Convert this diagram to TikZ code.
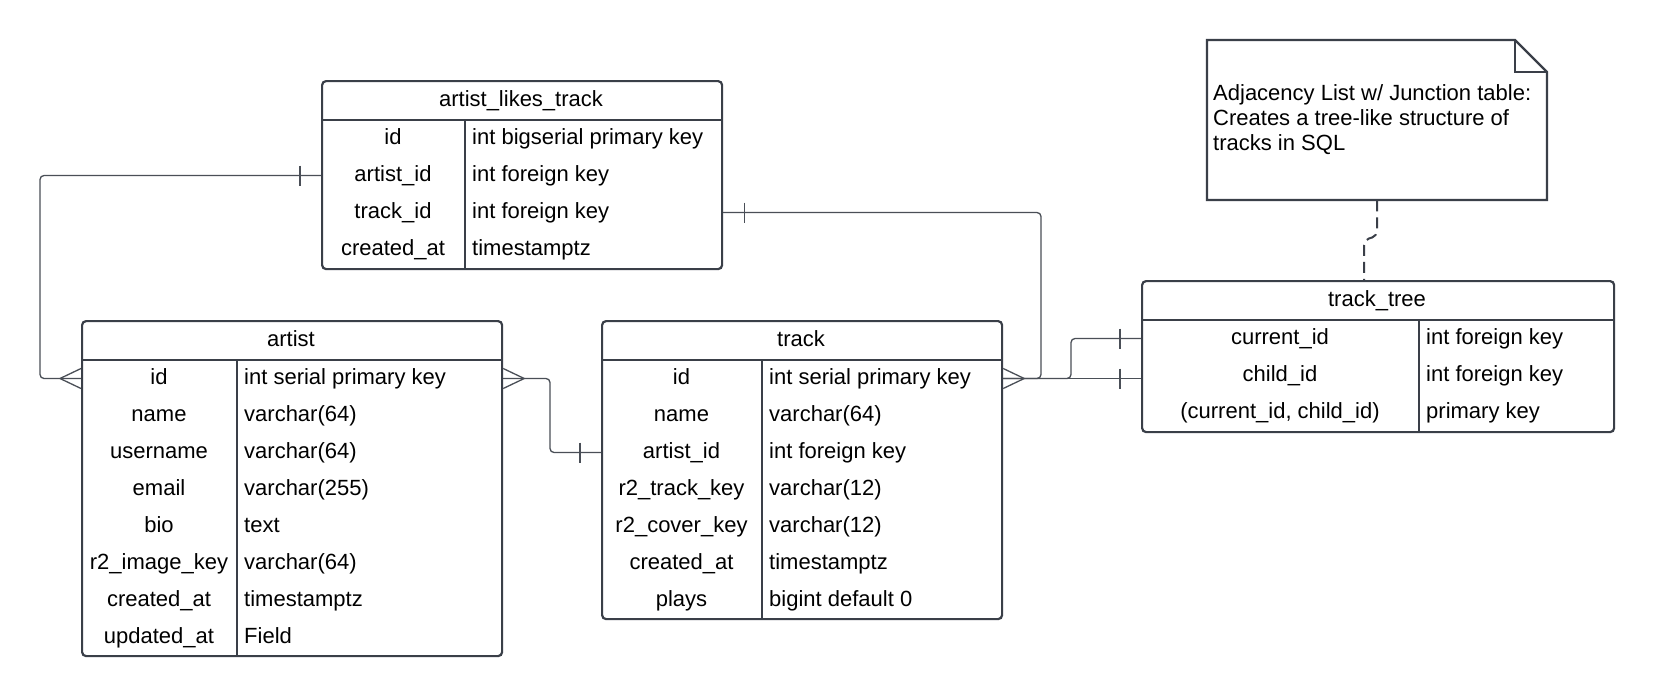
\documentclass[tikz,border=0pt]{standalone}
\usepackage{fontspec}
\setmainfont{Liberation Sans}
\usetikzlibrary{calc}
\definecolor{linec}{HTML}{3A3F48}
\definecolor{connc}{HTML}{4A4F57}
\tikzset{
  tbl/.style={draw=linec, line width=2.2pt, rounded corners=4pt, inner sep=0pt, anchor=north west, fill=white},
  sep/.style={draw=linec, line width=2.2pt},
  conn/.style={draw=connc, line width=1.3pt, rounded corners=4pt},
  mk/.style={draw=connc, line width=1.3pt},
  ttl/.style={font=\fontsize{22}{25}\selectfont, inner sep=0pt, text height=16pt, text depth=4pt},
  keyc/.style={ttl, anchor=center},
  typc/.style={ttl, anchor=west},
  notetext/.style={font=\fontsize{22}{25}\selectfont, align=left, inner sep=0pt, anchor=north west},
}
\newcommand\tickat[2]{\draw[mk] ($(#1)+(#2,-10)$) -- ($(#1)+(#2,10)$);}
\newcommand\crowat[2]{\draw[mk] ($(#1)+(0,-10)$) -- ($(#1)+(#2,0)$) -- ($(#1)+(0,10)$);}
\begin{document}
\begin{tikzpicture}[x=1pt,y=-1pt]
\useasboundingbox[fill=white] (0,0) rectangle (1653,696);

% ---------- artist_likes_track ----------
\node[tbl, minimum width=400pt, minimum height=188pt] (alt) at (321,80) {};
\draw[sep] (321,120) -- (721,120);
\draw[sep] (465,120) -- (465,268);
\node[keyc] (alt-title) at (521,100) {artist\_likes\_track};
\node[keyc] (alt-id) at (393,138.5) {id};
\node[keyc] (alt-aid) at (393,175.5) {artist\_id};
\node[keyc] (alt-tid) at (393,212.5) {track\_id};
\node[keyc] (alt-cat) at (393,249.5) {created\_at};
\node[typc] at (472,138.5) {int bigserial primary key};
\node[typc] at (472,175.5) {int foreign key};
\node[typc] at (472,212.5) {int foreign key};
\node[typc] at (472,249.5) {timestamptz};

% ---------- artist ----------
\node[tbl, minimum width=420pt, minimum height=335pt] (artist) at (81,320) {};
\draw[sep] (81,360) -- (501,360);
\draw[sep] (237,360) -- (237,655);
\node[keyc] (artist-title) at (291,340) {artist};
\foreach \k/\t [count=\i from 0] in {id/int serial primary key, name/varchar(64), username/varchar(64), email/varchar(255), bio/text, r2\_image\_key/varchar(64), created\_at/timestamptz, updated\_at/Field}{
  \node[keyc] (artist-r\i) at (159,378.5+37*\i) {\k};
  \node[typc] at (244,378.5+37*\i) {\t};
}

% ---------- track ----------
\node[tbl, minimum width=400pt, minimum height=298pt] (track) at (601,320) {};
\draw[sep] (601,360) -- (1001,360);
\draw[sep] (762,360) -- (762,618);
\node[keyc] (track-title) at (801,340) {track};
\foreach \k/\t [count=\i from 0] in {id/int serial primary key, name/varchar(64), artist\_id/int foreign key, r2\_track\_key/varchar(12), r2\_cover\_key/varchar(12), created\_at/timestamptz, plays/bigint default 0}{
  \node[keyc] (track-r\i) at (681.5,378.5+37*\i) {\k};
  \node[typc] at (769,378.5+37*\i) {\t};
}

% ---------- track_tree ----------
\node[tbl, minimum width=472pt, minimum height=151pt] (tt) at (1141,280) {};
\draw[sep] (1141,320) -- (1613,320);
\draw[sep] (1419,320) -- (1419,431);
\node[keyc] (tt-title) at (1377,300) {track\_tree};
\foreach \k/\t [count=\i from 0] in {current\_id/int foreign key, child\_id/int foreign key, {(current\_id, child\_id)}/primary key}{
  \node[keyc] (tt-r\i) at (1280,338.5+37*\i) {\k};
  \node[typc] at (1426,338.5+37*\i) {\t};
}

% ---------- note ----------
\draw[linec, line width=2.2pt, fill=white] (1207,40) -- (1515,40) -- (1547,72) -- (1547,200) -- (1207,200) -- cycle;
\draw[linec, line width=2.2pt] (1515,40) -- (1515,72) -- (1547,72);
\node[inner sep=0pt, minimum width=340pt, minimum height=160pt, anchor=north west] (note) at (1207,40) {};
\node[notetext] (note-text) at (1213,84) {Adjacency List w/ Junction table:\\Creates a tree-like structure of\\tracks in SQL};

% ---------- connectors ----------
\coordinate (p1) at (alt.west |- alt-aid);
\coordinate (q1) at (artist.west |- artist-r0);
\draw[conn] (p1) -| (40,378.5) -- (q1);
\tickat{p1}{-21}
\crowat{q1}{-21}

\coordinate (p2) at (artist.east |- artist-r0);
\coordinate (q2) at (track.west |- track-r2);
\draw[conn] (p2) -| (550,452.5) -- (q2);
\crowat{p2}{21}
\tickat{q2}{-21}

\coordinate (p3) at (alt.east |- alt-tid);
\coordinate (q3) at (track.east |- track-r0);
\draw[conn] (p3) -| (1041,378.5) -- (q3);
\tickat{p3}{21}
\crowat{q3}{21}

\coordinate (p4) at (tt.west |- tt-r0);
\coordinate (p5) at (tt.west |- q3);
\draw[conn] (q3) -- (1071,378.5) |- (p4);
\draw[conn] (q3) -- (p5);
\tickat{p4}{-21}
\tickat{p5}{-21}

\draw[draw=linec, line width=2pt, dash pattern=on 11pt off 6pt, rounded corners=5pt] (note.south -| 1377,0) -- (1377,236) -- (1364,240) -- (tt.north -| 1364,0);
\end{tikzpicture}
\end{document}
